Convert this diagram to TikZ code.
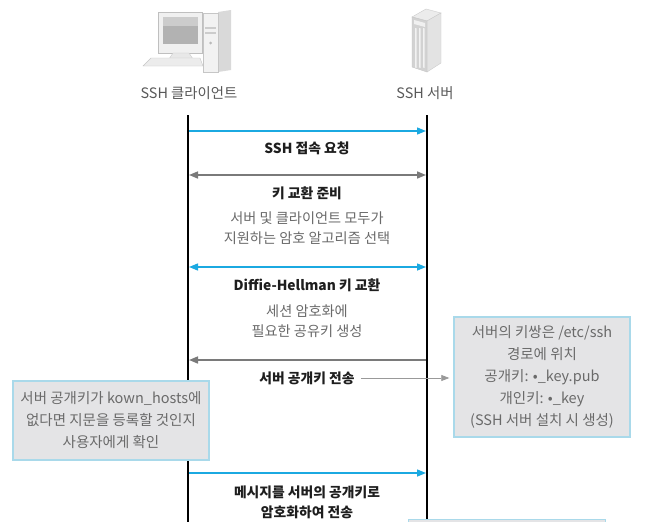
\documentclass[tikz,border=0pt]{standalone}
\usepackage{fontspec}
\setmainfont{Noto Sans CJK KR}
\usetikzlibrary{arrows.meta}
\definecolor{cyanarr}{HTML}{1BA9E1}
\definecolor{grayarr}{HTML}{7A7A7A}
\definecolor{boxfill}{HTML}{E4E4E6}
\definecolor{boxline}{HTML}{A9D9EA}
\definecolor{desc}{HTML}{6A6A6A}
\definecolor{lbl}{HTML}{1E1E1E}
\tikzset{
  lifeline/.style={line width=2pt, black},
  cyanmsg/.style={line width=1.4pt, cyanarr, -{Triangle[length=9pt,width=7pt]}},
  cyanboth/.style={line width=1.4pt, cyanarr, {Triangle[length=9pt,width=7pt]}-{Triangle[length=9pt,width=7pt]}},
  graymsg/.style={line width=1.6pt, grayarr, -{Triangle[length=9pt,width=7pt]}},
  grayboth/.style={line width=1.6pt, grayarr, {Triangle[length=9pt,width=7pt]}-{Triangle[length=9pt,width=7pt]}},
  pointer/.style={line width=0.7pt, gray!80, -{Triangle[length=8pt,width=6pt]}},
  msglabel/.style={font=\fontsize{13.8}{20}\selectfont\bfseries, text=lbl, inner sep=0pt},
  desctext/.style={font=\fontsize{14.2}{20}\selectfont, text=desc, align=center, inner sep=0pt},
  notebox/.style={draw=boxline, fill=boxfill, line width=1.4pt, align=center,
    font=\fontsize{14.5}{22}\selectfont, text=desc, inner sep=0pt},
  headlabel/.style={font=\fontsize{14.4}{16}\selectfont, text=black!65, inner sep=0pt},
}
\begin{document}
\begin{tikzpicture}[x=1pt,y=-1pt]
\useasboundingbox (0,0) rectangle (662,522);
\clip (0,0) rectangle (662,522);
\fill[white] (0,0) rectangle (662,522);

% ---------- client computer icon ----------
% tower
\fill[gray!30] (218,12) -- (231,10) -- (231,70) -- (218,72) -- cycle;
\filldraw[draw=gray!45, fill=gray!10] (203,13) rectangle (218,72);
\fill[gray!40] (205,27) rectangle (216,29);
\fill[gray!40] (205,32) rectangle (216,34);
\fill[gray!55] (210.5,43) circle (1.5);
% monitor
\filldraw[draw=gray!50, fill=gray!12] (158,12) rectangle (202,53);
\fill[gray!60] (163,17) rectangle (198,44);
\fill[gray!40] (163,17) rectangle (198,26);
\filldraw[draw=gray!45, fill=gray!18] (173,53) -- (189,53) -- (193,59) -- (169,59) -- cycle;
% keyboard
\filldraw[draw=gray!45, fill=gray!15] (151,58) -- (200,58) -- (203,66) -- (143,66) -- cycle;

% ---------- server icon ----------
\filldraw[draw=gray!40, fill=gray!15] (412,17) -- (426,9) -- (441,13) -- (427,21) -- cycle;
\filldraw[draw=gray!40, fill=gray!22] (427,21) -- (441,13) -- (441,63) -- (427,72) -- cycle;
\filldraw[draw=gray!45, fill=gray!35] (412,17) -- (427,21) -- (427,72) -- (412,67) -- cycle;
\fill[gray!12] (414,20) -- (425,23) -- (425,27) -- (414,24) -- cycle;
\foreach \xx in {415,419,423} {
  \fill[gray!10] (\xx,28) -- (\xx+1.6,28.4) -- (\xx+1.6,68) -- (\xx,67.5) -- cycle;
}

% ---------- head labels ----------
\node[headlabel] (client) at (189,93) {SSH 클라이언트};
\node[headlabel] (server) at (425,93) {SSH 서버};

% ---------- lifelines ----------
\coordinate (ctop) at (188,115);
\coordinate (cbot) at (188,522);
\coordinate (stop) at (427,115);
\coordinate (sbot) at (427,522);
\draw[lifeline] (ctop) -- (cbot);
\draw[lifeline] (stop) -- (sbot);

\foreach \n/\yy in {1/131,2/175,3/267,4/360,5/473} {
  \coordinate (c\n) at (189,\yy);
  \coordinate (s\n) at (426,\yy);
}

% ---------- messages ----------
\draw[cyanmsg] (c1) -- (s1);
\node[msglabel] (m1) at (307,148) {SSH 접속 요청};

\draw[grayboth] (c2) -- (s2);
\node[msglabel] (m2) at (307,193) {키 교환 준비};
\node[desctext] (d2) at (307,228) {서버 및 클라이언트 모두가\\지원하는 암호 알고리즘 선택};

\draw[cyanboth] (c3) -- (s3);
\node[msglabel] (m3) at (307,285) {Diffie-Hellman 키 교환};
\node[desctext] (d3) at (307,321) {세션 암호화에\\필요한 공유키 생성};

\draw[graymsg] (s4) -- (c4);
\node[msglabel] (m4) at (307,378) {서버 공개키 전송};

\draw[cyanmsg] (c5) -- (s5);
\node[msglabel, align=center] (m5) at (307,502) {메시지를 서버의 공개키로\\암호화하여 전송};

% ---------- notes ----------
\node[notebox, minimum width=176pt, minimum height=120pt] (keybox) at (542,377)
  {서버의 키쌍은 /etc/ssh\\경로에 위치\\공개키: •\_key.pub\\개인키: •\_key\\(SSH 서버 설치 시 생성)};
\draw[pointer] ([xshift=6pt]m4.east) -- ([xshift=-4pt]keybox.west |- m4.east);

\node[notebox, minimum width=196pt, minimum height=79pt] (hostbox) at (111,420.5)
  {서버 공개키가 kown\_hosts에\\없다면 지문을 등록할 것인지\\사용자에게 확인};

\node[notebox, minimum width=197pt, minimum height=40pt, anchor=north west] (nextbox) at (408,519) {};
\end{tikzpicture}
\end{document}
